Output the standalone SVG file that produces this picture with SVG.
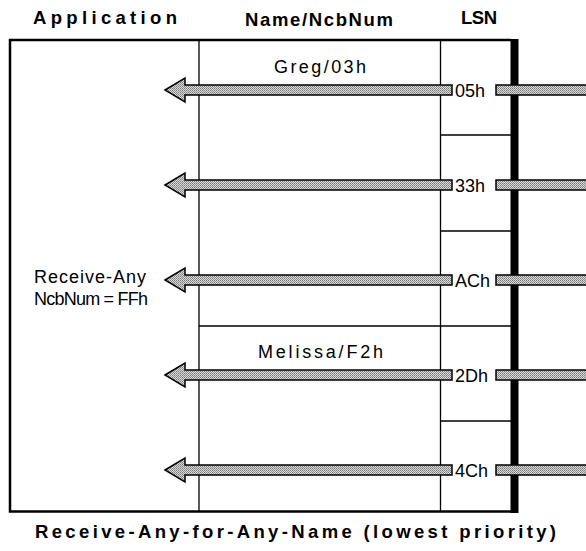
<svg xmlns="http://www.w3.org/2000/svg" width="586" height="551" viewBox="0 0 586 551">
<defs>
<pattern id="stip" width="2" height="2" patternUnits="userSpaceOnUse">
<rect width="2" height="2" fill="#d8d8d8"/>
<rect width="1" height="1" fill="#7a7a7a"/>
<rect x="1" y="1" width="1" height="1" fill="#949494"/>
</pattern>
</defs>
<style>
.t{font-family:"Liberation Sans",Arial,sans-serif;font-size:18px;fill:#000}
.l{font-family:"Liberation Sans",Arial,sans-serif;font-size:18px;fill:#000}
.h{font-family:"Liberation Sans",Arial,sans-serif;font-size:18.5px;font-weight:bold;fill:#000}
.ln{stroke:#000;stroke-width:1.3;fill:none}
.arr{fill:url(#stip);stroke:#000;stroke-width:1.5;stroke-linejoin:miter}
</style>
<rect width="586" height="551" fill="#fff"/>
<g id="headers">
<text class="h" x="33" y="24" textLength="144" lengthAdjust="spacing">Application</text>
<text class="h" x="245" y="26" textLength="148" lengthAdjust="spacing">Name/NcbNum</text>
<text class="h" x="461" y="24" textLength="36" lengthAdjust="spacing">LSN</text>
<text class="h" x="35" y="538" textLength="521" lengthAdjust="spacing">Receive-Any-for-Any-Name (lowest priority)</text>
</g>
<g id="frame">
<path d="M511,40 L10,40 L10,511.5 L511,511.5" style="stroke:#000;stroke-width:2.5;fill:none"/>
<rect x="510.5" y="39" width="8" height="474" fill="#000"/>
<line class="ln" x1="199" y1="40" x2="199" y2="511"/>
<line class="ln" x1="440.5" y1="40" x2="440.5" y2="511"/>
<line class="ln" x1="440.5" y1="135" x2="511" y2="135"/>
<line class="ln" x1="440.5" y1="231" x2="511" y2="231"/>
<line class="ln" x1="199" y1="326" x2="511" y2="326"/>
<line class="ln" x1="440.5" y1="421" x2="511" y2="421"/>
</g>
<g id="labels">
<text class="t" x="274" y="73" textLength="92" lengthAdjust="spacing">Greg/03h</text>
<text class="t" x="258" y="358" textLength="125" lengthAdjust="spacing">Melissa/F2h</text>
<text class="t" x="34" y="283" textLength="112" lengthAdjust="spacing">Receive-Any</text>
<text class="t" x="34" y="305" textLength="114" lengthAdjust="spacing">NcbNum = FFh</text>
</g>
<g id="connectors">
<g transform="translate(0,90)"><path class="arr" d="M165,0 L185,-12 L185,-5 L452,-5 L452,5 L185,5 L185,12 Z"/><text class="l" x="455" y="7">05h</text><rect class="arr" x="496" y="-5" width="95" height="10"/></g>
<g transform="translate(0,185)"><path class="arr" d="M165,0 L185,-12 L185,-5 L452,-5 L452,5 L185,5 L185,12 Z"/><text class="l" x="455" y="7">33h</text><rect class="arr" x="496" y="-5" width="95" height="10"/></g>
<g transform="translate(0,280)"><path class="arr" d="M165,0 L185,-12 L185,-5 L452,-5 L452,5 L185,5 L185,12 Z"/><text class="l" x="455" y="7">ACh</text><rect class="arr" x="496" y="-5" width="95" height="10"/></g>
<g transform="translate(0,375)"><path class="arr" d="M165,0 L185,-12 L185,-5 L452,-5 L452,5 L185,5 L185,12 Z"/><text class="l" x="455" y="7">2Dh</text><rect class="arr" x="496" y="-5" width="95" height="10"/></g>
<g transform="translate(0,470)"><path class="arr" d="M165,0 L185,-12 L185,-5 L452,-5 L452,5 L185,5 L185,12 Z"/><text class="l" x="455" y="7">4Ch</text><rect class="arr" x="496" y="-5" width="95" height="10"/></g>
</g>
</svg>
